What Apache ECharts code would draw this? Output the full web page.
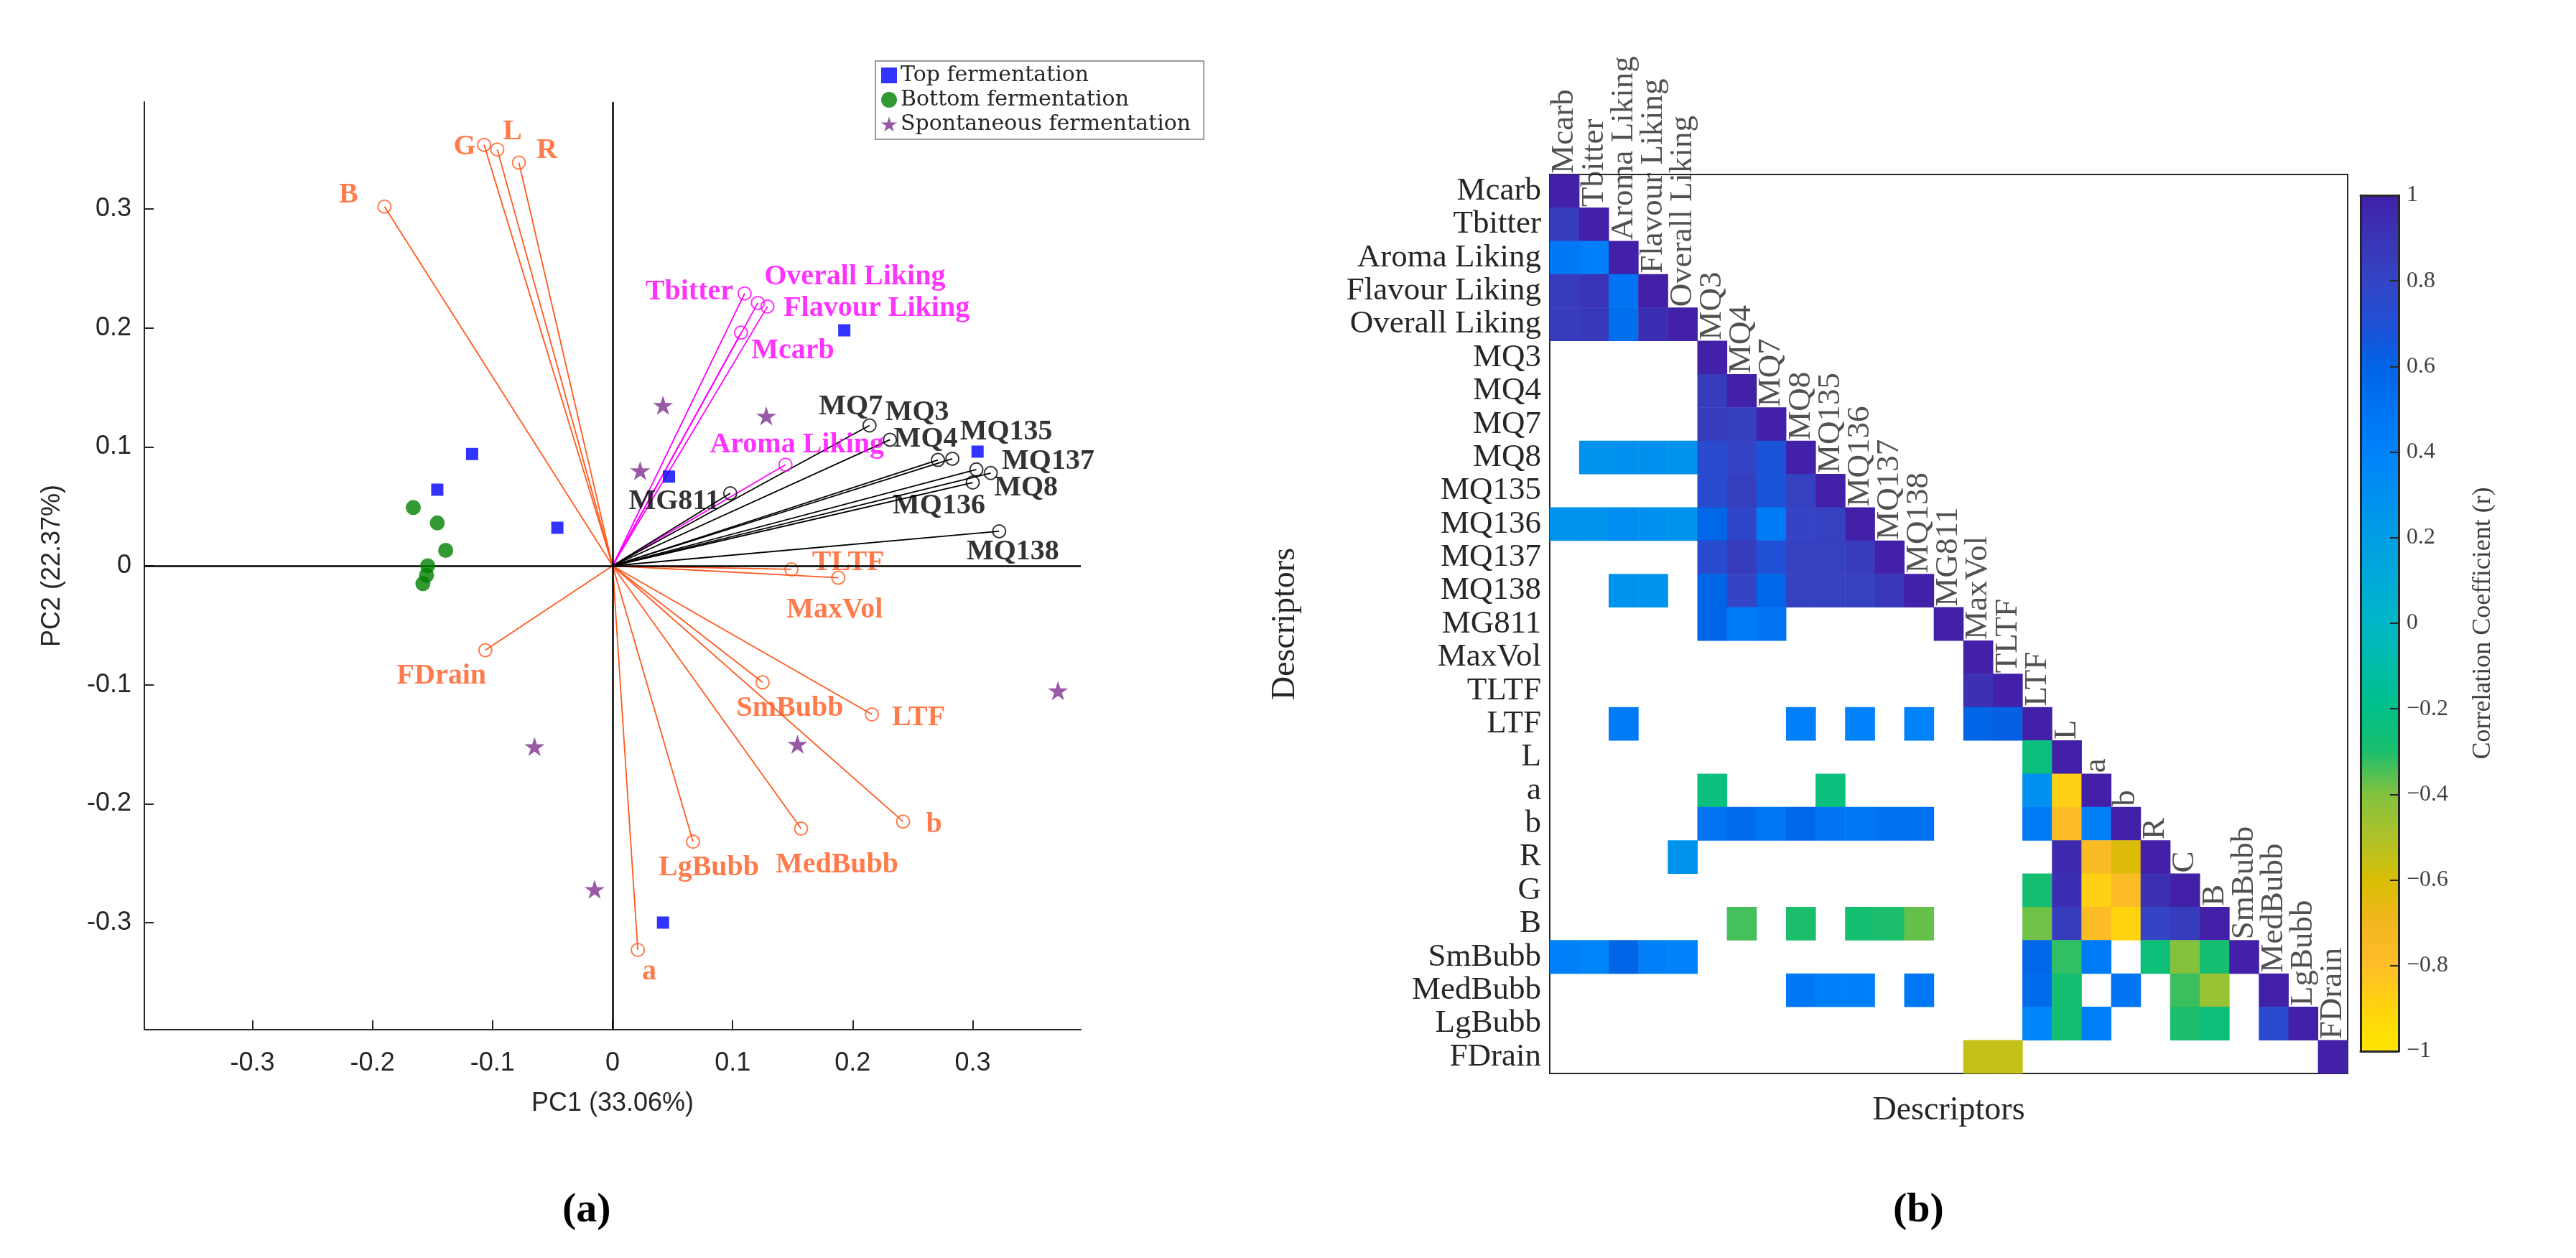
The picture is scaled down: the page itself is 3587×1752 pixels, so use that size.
<!DOCTYPE html>
<html><head><meta charset="utf-8">
<script src="https://cdn.jsdelivr.net/npm/echarts@6/dist/echarts.min.js"></script>
<style>html,body{margin:0;padding:0;background:#fff}#c{width:3587px;height:1752px}</style>
</head><body><div id="c"></div>
<script>
// ================= DATA =================
// (a) PCA biplot – sample scores
const topFerm = [[-0.117,0.094],[-0.146,0.064],[-0.046,0.032],[0.047,0.075],[0.193,0.198],[0.304,0.096],[0.042,-0.300]];
const bottomFerm = [[-0.166,0.049],[-0.146,0.036],[-0.139,0.013],[-0.154,0.000],[-0.155,-0.008],[-0.158,-0.015]];
const spontFerm = [[0.042,0.135],[0.128,0.126],[0.023,0.080],[0.371,-0.105],[0.154,-0.150],[-0.065,-0.152],[-0.015,-0.272]];
// loadings
const orangeNames = ['B','G','L','R','TLTF','MaxVol','SmBubb','LTF','b','MedBubb','LgBubb','a','FDrain'];
const orangeLoadings = [[-0.190,0.302],[-0.107,0.354],[-0.096,0.350],[-0.078,0.339],[0.149,-0.003],[0.188,-0.010],[0.125,-0.098],[0.216,-0.125],[0.242,-0.215],[0.157,-0.221],[0.067,-0.232],[0.021,-0.323],[-0.106,-0.071]];
const magentaNames = ['Tbitter','Overall Liking','Flavour Liking','Mcarb','Aroma Liking'];
const magentaLoadings = [[0.110,0.229],[0.121,0.221],[0.129,0.218],[0.107,0.196],[0.144,0.085]];
const blackNames = ['MQ7','MQ3','MQ4','MQ135','MQ137','MQ8','MQ136','MQ138','MG811'];
const blackLoadings = [[0.214,0.118],[0.231,0.106],[0.271,0.089],[0.283,0.090],[0.303,0.081],[0.315,0.078],[0.300,0.070],[0.322,0.029],[0.098,0.061]];
const xTicks = [-0.3,-0.2,-0.1,0,0.1,0.2,0.3];
const yTicks = [-0.3,-0.2,-0.1,0,0.1,0.2,0.3];

// (b) correlation heatmap (lower triangle, null = not shown)
const descriptors = ['Mcarb','Tbitter','Aroma Liking','Flavour Liking','Overall Liking','MQ3','MQ4','MQ7','MQ8','MQ135','MQ136','MQ137','MQ138','MG811','MaxVol','TLTF','LTF','L','a','b','R','G','B','SmBubb','MedBubb','LgBubb','FDrain'];
const diagLabels = ['Mcarb','Tbitter','Aroma Liking','Flavour Liking','Overall Liking','MQ3','MQ4','MQ7','MQ8','MQ135','MQ136','MQ137','MQ138','MG811','MaxVol','TLTF','LTF','L','a','b','R','C','B','SmBubb','MedBubb','LgBubb','FDrain'];
const _ = null;
const corrRows = [
 [1],
 [0.85,1],
 [0.48,0.43,1],
 [0.85,0.9,0.5,1],
 [0.85,0.87,0.53,0.93,1],
 [_,_,_,_,_,1],
 [_,_,_,_,_,0.85,1],
 [_,_,_,_,_,0.85,0.83,1],
 [_,0.28,0.29,0.29,0.28,0.75,0.8,0.68,1],
 [_,_,_,_,_,0.75,0.83,0.68,0.82,1],
 [0.28,0.28,0.33,0.3,0.28,0.58,0.78,0.45,0.8,0.82,1],
 [_,_,_,_,_,0.75,0.85,0.7,0.82,0.82,0.85,1],
 [_,_,0.28,0.28,_,0.6,0.8,0.58,0.82,0.82,0.82,0.88,1],
 [_,_,_,_,_,0.6,0.45,0.5,_,_,_,_,_,1],
 [_,_,_,_,_,_,_,_,_,_,_,_,_,_,1],
 [_,_,_,_,_,_,_,_,_,_,_,_,_,_,0.92,1],
 [_,_,0.46,_,_,_,_,_,0.42,_,0.4,_,0.4,_,0.6,0.62,1],
 [_,_,_,_,_,_,_,_,_,_,_,_,_,_,_,_,-0.24,1],
 [_,_,_,_,_,-0.24,_,_,_,-0.24,_,_,_,_,_,_,0.3,-0.88,1],
 [_,_,_,_,_,0.5,0.55,0.48,0.58,0.5,0.48,0.52,0.52,_,_,_,0.45,-0.78,0.42,1],
 [_,_,_,_,0.28,_,_,_,_,_,_,_,_,_,_,_,_,0.95,-0.75,-0.62,1],
 [_,_,_,_,_,_,_,_,_,_,_,_,_,_,_,_,-0.28,0.93,-0.88,-0.78,0.92,1],
 [_,_,_,_,_,_,-0.34,_,-0.3,_,-0.28,-0.3,-0.37,_,_,_,-0.38,0.85,-0.78,-0.9,0.8,0.85,1],
 [0.42,0.38,0.6,0.42,0.4,_,_,_,_,_,_,_,_,_,_,_,0.58,-0.32,0.45,_,-0.25,-0.4,-0.28,1],
 [_,_,_,_,_,_,_,_,0.48,0.42,0.42,_,0.48,_,_,_,0.55,-0.28,_,0.5,_,-0.33,-0.45,_,1],
 [_,_,_,_,_,_,_,_,_,_,_,_,_,_,_,_,0.38,-0.27,0.43,_,_,-0.3,-0.25,_,0.75,1],
 [_,_,_,_,_,_,_,_,_,_,_,_,_,_,-0.55,-0.55,_,_,_,_,_,_,_,_,_,_,1]
];

// ================= STYLE =================
const SERIF = "'Liberation Serif','DejaVu Serif',serif";
const SERIF_WIDE = "'DejaVu Serif','Liberation Serif',serif";
const SANS = "'Liberation Sans',Arial,sans-serif";
const AX = '#262626';
const ORANGE = '#FF5A1F', MAGENTA = '#FF00FF', BLACK = '#000000';
const STAR = 'path://M50,0 L61.2,34.5 L97.6,34.5 L68.2,55.9 L79.4,90.5 L50,69.1 L20.6,90.5 L31.8,55.9 L2.4,34.5 L38.8,34.5 Z';
const cmap = ['#FFE600','#FFD40E','#FFBE28','#F2B61E','#D8BE04','#AEC22A','#84C23E','#1CBE6C','#00C088','#00BCA8','#00B6C6','#00AAD6','#009EE4','#0090F0','#0082FA','#0074F2','#0064E6','#2050D6','#3444C4','#3A34B6','#4220A8'];
// label offsets (px) from loading marker to label centre
const labelOffset = {
 'B':[-50,-16],'G':[-27,3],'L':[21,-25],'R':[39,-17],'TLTF':[79,-9],'MaxVol':[-5,45],'SmBubb':[38,36],'LTF':[65,5],
 'b':[43,5],'MedBubb':[50,51],'LgBubb':[22,36],'a':[16,31],'FDrain':[-61,36],
 'Tbitter':[-77,-2],'Overall Liking':[135,-36],'Flavour Liking':[152,3],'Mcarb':[72,25],'Aroma Liking':[16,-28],
 'MQ7':[-26,-26],'MQ3':[38,-38],'MQ4':[-17,-29],'MQ135':[75,-37],'MQ137':[100,-11],'MQ8':[49,21],'MQ136':[-47,33],'MQ138':[19,29],'MG811':[-78,12]
};

function vecLines(pts, color){
  return {type:'lines', coordinateSystem:'cartesian2d', xAxisIndex:0, yAxisIndex:0, silent:true, z:3,
    lineStyle:{color:color, width:1.8, opacity:1},
    data: pts.map(p=>({coords:[[0,0],p]}))};
}
function vecEnds(names, pts, color){
  return {type:'scatter', xAxisIndex:0, yAxisIndex:0, silent:true, z:4, symbol:'circle', symbolSize:18,
    itemStyle:{color:'rgba(0,0,0,0)', borderColor:color, borderWidth:2},
    label:{show:true, position:'inside', formatter:'{b}', color:color, fontFamily:SERIF, fontWeight:'bold', fontSize:40},
    data: names.map((n,i)=>({name:n, value:pts[i], label:{offset:labelOffset[n]}}))};
}

const heatData = [];
corrRows.forEach((row,i)=>row.forEach((v,j)=>{ if(v!==null) heatData.push([j,i,v]); }));

const fmtNum = v => { const r = Math.round(v*10)/10; return r===0 ? '0' : String(r); };
const fmtCb = v => { const r = Math.round(v*10)/10; return r<0 ? '\u2212'+String(-r) : String(r); };

const option = {
  animation:false,
  backgroundColor:'#fff',
  grid:[
    {left:201, top:142, width:1304, height:1292},
    {left:2158, top:243, width:1111, height:1252},
    {left:3287, top:272, width:53, height:1192}
  ],
  xAxis:[
    {gridIndex:0, type:'value', min:-0.39, max:0.39, position:'bottom',
     axisLine:{onZero:false, lineStyle:{color:AX, width:2}},
     axisTick:{inside:true, length:13, customValues:xTicks, lineStyle:{color:AX, width:2}},
     axisLabel:{customValues:xTicks, formatter:fmtNum, fontFamily:SANS, fontSize:36, color:AX, margin:29},
     splitLine:{show:false},
     name:'PC1 (33.06%)', nameLocation:'middle', nameGap:85, nameTextStyle:{fontFamily:SANS, fontSize:36, color:AX}},
    {gridIndex:1, type:'category', data:descriptors, position:'bottom',
     axisLine:{lineStyle:{color:AX, width:2}},
     axisTick:{inside:true, length:10, interval:0, lineStyle:{color:AX, width:2}},
     axisLabel:{show:false}, splitLine:{show:false},
     name:'Descriptors', nameLocation:'middle', nameGap:29, nameTextStyle:{fontFamily:SERIF, fontSize:46, color:AX}},
    {gridIndex:1, type:'category', data:descriptors, position:'top',
     axisLine:{lineStyle:{color:AX, width:2}},
     axisTick:{inside:true, length:10, interval:0, lineStyle:{color:AX, width:2}},
     axisLabel:{show:false}, splitLine:{show:false}},
    {gridIndex:2, type:'value', min:0, max:1, position:'bottom', z:10,
     axisLine:{onZero:false, lineStyle:{color:AX, width:3}}, axisTick:{show:false}, axisLabel:{show:false}, splitLine:{show:false}},
    {gridIndex:2, type:'value', min:0, max:1, position:'top', z:10,
     axisLine:{onZero:false, lineStyle:{color:AX, width:3}}, axisTick:{show:false}, axisLabel:{show:false}, splitLine:{show:false}}
  ],
  yAxis:[
    {gridIndex:0, type:'value', min:-0.39, max:0.39, position:'left',
     axisLine:{onZero:false, lineStyle:{color:AX, width:2}},
     axisTick:{inside:true, length:13, customValues:yTicks, lineStyle:{color:AX, width:2}},
     axisLabel:{customValues:yTicks, formatter:fmtNum, fontFamily:SANS, fontSize:36, color:AX, margin:18},
     splitLine:{show:false},
     name:'PC2 (22.37%)', nameLocation:'middle', nameGap:110, nameRotate:90, nameTextStyle:{fontFamily:SANS, fontSize:36, color:AX}},
    {gridIndex:1, type:'category', data:descriptors, inverse:true, position:'left',
     axisLine:{lineStyle:{color:AX, width:2}},
     axisTick:{inside:true, length:10, interval:0, lineStyle:{color:AX, width:2}},
     axisLabel:{interval:0, fontFamily:SERIF, fontSize:45, color:AX, margin:12},
     splitLine:{show:false},
     name:'Descriptors', nameLocation:'middle', nameGap:345, nameRotate:90, nameTextStyle:{fontFamily:SERIF, fontSize:46, color:AX}},
    {gridIndex:1, type:'category', data:descriptors, inverse:true, position:'right',
     axisLine:{lineStyle:{color:AX, width:2}},
     axisTick:{inside:true, length:10, interval:0, lineStyle:{color:AX, width:2}},
     axisLabel:{show:false}, splitLine:{show:false}},
    {gridIndex:2, type:'value', min:-1, max:1, interval:0.2, position:'right', z:10,
     axisLine:{onZero:false, lineStyle:{color:AX, width:3}},
     axisTick:{inside:true, length:12, lineStyle:{color:AX, width:2}},
     axisLabel:{formatter:fmtCb, fontFamily:SERIF, fontSize:32, color:'#404040', margin:11},
     splitLine:{show:false},
     name:'Correlation Coefficient (r)', nameLocation:'middle', nameGap:100, nameRotate:90, nameTextStyle:{fontFamily:SERIF, fontSize:36, color:'#404040'}},
    {gridIndex:2, type:'value', min:-1, max:1, position:'left', z:10,
     axisLine:{onZero:false, lineStyle:{color:AX, width:3}}, axisTick:{show:false}, axisLabel:{show:false}, splitLine:{show:false}}
  ],
  visualMap:{type:'continuous', min:-1, max:1, seriesIndex:9, calculable:false, hoverLink:false,
    orient:'vertical', left:3287, top:272, itemWidth:53, itemHeight:1192, padding:0, text:null, showLabel:false,
    inRange:{color:cmap}},
  legend:{left:1219, top:85, orient:'vertical', itemGap:4, itemWidth:22, itemHeight:22,
    padding:[5,18,6,8], borderColor:'#9a9a9a', borderWidth:2, backgroundColor:'#fff',
    textStyle:{fontFamily:SERIF_WIDE, fontSize:30, color:AX},
    data:[{name:'Top fermentation', icon:'rect'},{name:'Bottom fermentation', icon:'circle'},{name:'Spontaneous fermentation', icon:STAR}]},
  title:[
    {text:'{p|(}{b|a}{p|)}', left:778, top:1652, textStyle:{rich:{p:{fontFamily:SERIF, fontSize:58, color:'#000'}, b:{fontFamily:SERIF, fontSize:58, fontWeight:'bold', color:'#000'}}}},
    {text:'{p|(}{b|b}{p|)}', left:2631, top:1652, textStyle:{rich:{p:{fontFamily:SERIF, fontSize:58, color:'#000'}, b:{fontFamily:SERIF, fontSize:58, fontWeight:'bold', color:'#000'}}}}
  ],
  series:[
    vecLines(orangeLoadings, ORANGE),
    vecLines(magentaLoadings, MAGENTA),
    vecLines(blackLoadings, BLACK),
    vecEnds(orangeNames, orangeLoadings, ORANGE),
    vecEnds(magentaNames, magentaLoadings, MAGENTA),
    vecEnds(blackNames, blackLoadings, BLACK),
    {name:'Top fermentation', type:'scatter', xAxisIndex:0, yAxisIndex:0, symbol:'rect', symbolSize:17, z:5,
     itemStyle:{color:'#0000FF'}, data:topFerm,
     markLine:{silent:true, symbol:'none', label:{show:false}, lineStyle:{color:'#000', width:2.5, type:'solid'}, data:[{xAxis:0},{yAxis:0}]}},
    {name:'Bottom fermentation', type:'scatter', xAxisIndex:0, yAxisIndex:0, symbol:'circle', symbolSize:21, z:5,
     itemStyle:{color:'#007F00'}, data:bottomFerm},
    {name:'Spontaneous fermentation', type:'scatter', xAxisIndex:0, yAxisIndex:0, symbol:STAR, symbolKeepAspect:true, symbolSize:28, z:5,
     itemStyle:{color:'#7E2F8E'}, data:spontFerm},
    {type:'heatmap', xAxisIndex:1, yAxisIndex:1, data:heatData, silent:true, emphasis:{disabled:true}},
    {type:'scatter', xAxisIndex:1, yAxisIndex:1, silent:true, symbolSize:1, z:6,
     itemStyle:{color:'rgba(0,0,0,0)'},
     label:{show:true, position:'top', distance:24, rotate:90, align:'left', verticalAlign:'middle', formatter:'{b}',
            fontFamily:SERIF, fontSize:45, color:AX},
     data: diagLabels.map((n,i)=>({name:n, value:[i,i]}))}
  ]
};
const chart = echarts.init(document.getElementById('c'), null, {renderer:'canvas'});
chart.setOption(option);
</script></body></html>
